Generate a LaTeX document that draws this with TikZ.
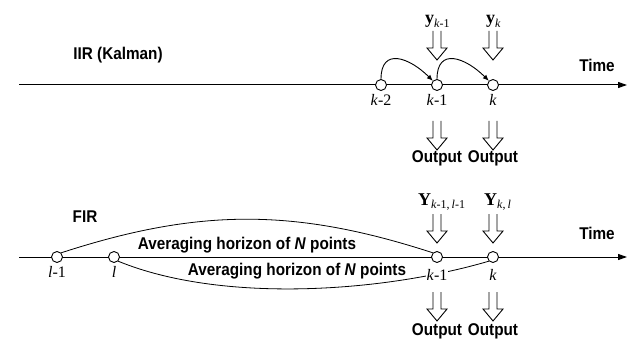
\documentclass[tikz,border=0pt]{standalone}
\usepackage{fontspec}
\setmainfont{Liberation Serif}
\newfontfamily\lblfont[FakeStretch=0.9]{Liberation Sans}
\usetikzlibrary{arrows.meta,positioning,calc}
\newcommand{\sbs}[1]{\raisebox{-3.5pt}{\fontsize{12}{14}\selectfont #1}}

\tikzset{
  hollow/.pic={\draw[line width=0.9pt,fill=white] (-4,0) -- (-4,-17) -- (-10,-17)
    -- (0,-29) -- (10,-17) -- (4,-17) -- (4,0);}}

\begin{document}
\begin{tikzpicture}[x=1pt,y=1pt,
  axis/.style={line width=1pt,-{Triangle[length=9pt,width=6pt]}},
  smp/.style={circle,draw,line width=0.9pt,fill=white,minimum size=11pt,inner sep=0pt},
  ttl/.style={font=\lblfont\bfseries\fontsize{17}{19}\selectfont},
  lbl/.style={font=\fontsize{16}{18}\selectfont,inner sep=1pt},
  obs/.style={font=\fontsize{18}{20}\selectfont,anchor=base west,inner sep=0pt},
  hz/.style={font=\lblfont\bfseries\fontsize{17}{19}\selectfont,inner sep=1pt},
  arc/.style={line width=0.9pt,-{Latex[length=6pt,width=5pt]}}]
\useasboundingbox (0,0) rectangle (642,343);

% IIR (Kalman)
\coordinate (s1) at (19,258);
\coordinate (e1) at (627,258);
\draw[axis] (s1) -- (e1);
\node[ttl] (iir) at (118,288) {IIR (Kalman)};
\node[ttl] (t1) at (597,278) {Time};
\node[smp] (m2) at (381,258) {};
\node[smp] (m1) at (437,258) {};
\node[smp] (m0) at (493,258) {};
\node[lbl] (lm2) at (381,243) {\textit{k}-2};
\node[lbl] (lm1) at (437,243) {\textit{k}-1};
\node[lbl] (lm0) at (493,243) {\textit{k}};
\draw[arc] (m2.north) to[out=90,in=135,looseness=1.6] (m1.north west);
\draw[arc] (m1.north) to[out=90,in=135,looseness=1.6] (m0.north west);
\node[obs] (y1) at (425,319) {\textbf{y}\sbs{\textit{k}-1}};
\node[obs] (y0) at (486,319) {\textbf{y}\sbs{\textit{k}}};
\pic at (437,312) {hollow};
\pic at (493,312) {hollow};
\pic at (437,222) {hollow};
\pic at (493,222) {hollow};
\node[ttl] (o1) at (437,185) {Output};
\node[ttl] (o0) at (493,185) {Output};

% FIR
\coordinate (s2) at (19,86);
\coordinate (e2) at (627,86);
\draw[axis] (s2) -- (e2);
\node[ttl] (fir) at (85,126) {FIR};
\node[ttl] (t2) at (597,110) {Time};
\node[smp] (l1) at (57,86) {};
\node[smp] (l0) at (114,86) {};
\node[smp] (n1) at (437,86) {};
\node[smp] (n0) at (493,86) {};
\draw[line width=0.8pt] (l1.north east) to[out=18,in=162] (n1.north west);
\draw[line width=0.8pt] (l0.south east) .. controls (220,40) and (380,50) .. (n0.south west);
\node[lbl] (ll1) at (57,71) {\textit{l}-1};
\node[lbl] (ll0) at (114,71) {\textit{l}};
\node[lbl,fill=white] (ln1) at (437,68) {\textit{k}-1};
\node[lbl] (ln0) at (493,68) {\textit{k}};
\node[hz] (h1) at (247,98) {Averaging horizon of \textit{N} points};
\node[hz] (h2) at (297,72) {Averaging horizon of \textit{N} points};
\node[obs] (Y1) at (418,138) {\textbf{Y}\sbs{\textit{k}-1,\,\textit{l}-1}};
\node[obs] (Y0) at (484,138) {\textbf{Y}\sbs{\textit{k},\,\textit{l}}};
\pic at (437,129) {hollow};
\pic at (493,129) {hollow};
\pic at (437,51) {hollow};
\pic at (493,51) {hollow};
\node[ttl] (o3) at (437,12) {Output};
\node[ttl] (o2) at (493,12) {Output};
\end{tikzpicture}
\end{document}
